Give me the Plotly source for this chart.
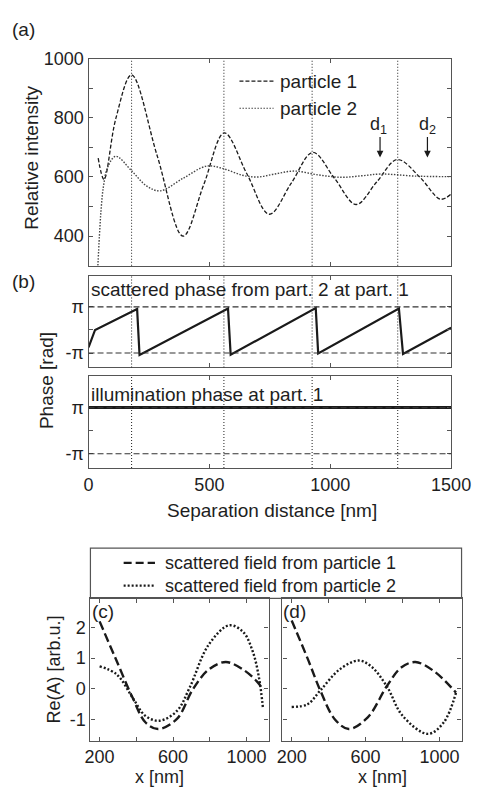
import math
import plotly.graph_objects as go

# ---------------- data ----------------
# (a) relative intensity vs separation distance
sep_p1_nm = [40, 64, 113, 178, 284, 391, 477, 562, 655, 748, 838, 928, 1018, 1107, 1192, 1278, 1370, 1456, 1500]
int_p1 = [664, 592, 798, 945, 672, 400, 575, 749, 611, 474, 578, 683, 595, 507, 583, 659, 600, 525, 542]
sep_p2_nm = [38, 45, 52, 62, 80, 113, 177, 240, 296, 390, 490, 562, 636, 700, 770, 852, 950, 1048, 1130, 1212, 1350, 1500]
int_p2 = [290, 400, 490, 570, 635, 670, 622, 570, 553, 595, 637, 627, 606, 600, 610, 620, 607, 599, 604, 610, 603, 601]
resonance_nm = [178, 560, 925, 1279]
arrow_d1 = (1206, 666)
arrow_d2 = (1402, 666)

# (b) phases
phase_nm = [0, 27, 201, 211, 577, 588, 940, 950, 1284, 1301, 1500]
phase_rad = [-2.38, 0.0, 2.84, -3.41, 2.93, -3.37, 2.97, -3.19, 2.93, -3.28, 0.30]
illum_nm = [0, 1500]
illum_rad = [math.pi, math.pi]

# (c) field profiles
c_p1_x = [200, 286, 380, 449, 518, 621, 707, 793, 887, 982, 1056, 1090]
c_p1_y = [2.20, 1.00, -0.30, -1.10, -1.32, -0.99, -0.03, 0.62, 0.87, 0.62, 0.24, -0.03]
c_p2_x = [200, 294, 380, 449, 526, 621, 690, 793, 905, 982, 1034, 1068, 1090]
c_p2_y = [0.73, 0.46, -0.30, -0.89, -1.05, -0.73, 0.03, 1.43, 2.07, 1.85, 1.21, 0.35, -0.67]
# (d) field profiles
d_p1_x = [200, 286, 355, 432, 509, 612, 715, 793, 870, 973, 1090]
d_p1_y = [2.23, 0.99, -0.06, -0.99, -1.32, -0.94, 0.08, 0.69, 0.87, 0.56, -0.13]
d_p2_x = [200, 286, 355, 458, 561, 630, 715, 801, 938, 1024, 1090]
d_p2_y = [-0.60, -0.51, -0.06, 0.62, 0.92, 0.73, 0.08, -0.89, -1.48, -1.10, -0.13]

# ---------------- layout helpers ----------------
W, H = 492, 789
def px(x):
    return x / W
def py(y):
    return 1 - y / H

FONT = "Liberation Sans, Arial, sans-serif"
TXT = "#1e1e1e"
AX = "#555555"
INK = "#1a1a1a"

fig = go.Figure()

# (a)
fig.add_trace(go.Scatter(x=sep_p1_nm, y=int_p1, mode="lines", xaxis="x", yaxis="y",
                         line=dict(color=INK, width=1.3, dash="4px,2px", shape="spline", smoothing=1.0)))
fig.add_trace(go.Scatter(x=sep_p2_nm, y=int_p2, mode="lines", xaxis="x", yaxis="y",
                         line=dict(color="#444444", width=1.4, dash="1.5px,1.5px", shape="spline", smoothing=1.0)))
# (b)
fig.add_trace(go.Scatter(x=phase_nm, y=phase_rad, mode="lines", xaxis="x2", yaxis="y2",
                         line=dict(color=INK, width=2.2)))
fig.add_trace(go.Scatter(x=illum_nm, y=illum_rad, mode="lines", xaxis="x3", yaxis="y3",
                         line=dict(color=INK, width=3)))
# (c)
fig.add_trace(go.Scatter(x=c_p1_x, y=c_p1_y, mode="lines", xaxis="x4", yaxis="y4",
                         line=dict(color=INK, width=2.4, dash="9px,4px", shape="spline", smoothing=1.0)))
fig.add_trace(go.Scatter(x=c_p2_x, y=c_p2_y, mode="lines", xaxis="x4", yaxis="y4",
                         line=dict(color=INK, width=2.4, dash="2px,2px", shape="spline", smoothing=1.0)))
# (d)
fig.add_trace(go.Scatter(x=d_p1_x, y=d_p1_y, mode="lines", xaxis="x5", yaxis="y5",
                         line=dict(color=INK, width=2.4, dash="9px,4px", shape="spline", smoothing=1.0)))
fig.add_trace(go.Scatter(x=d_p2_x, y=d_p2_y, mode="lines", xaxis="x5", yaxis="y5",
                         line=dict(color=INK, width=2.4, dash="2px,2px", shape="spline", smoothing=1.0)))

common = dict(showline=True, linecolor=AX, linewidth=1.2, mirror="ticks", ticks="inside",
              ticklen=4, tickcolor=AX, tickwidth=1, showgrid=False, zeroline=False,
              tickfont=dict(family=FONT, size=18, color=TXT))

xa_dom = [px(88), px(470)]
fig.update_layout(
    width=W, height=H, margin=dict(l=0, r=0, t=0, b=0),
    paper_bgcolor="white", plot_bgcolor="white", showlegend=False,
    xaxis=dict(domain=xa_dom, range=[0, 1500], anchor="y", tickvals=[0, 500, 1000, 1500],
               showticklabels=False, **common),
    yaxis=dict(domain=[py(259), py(49.3)], range=[300, 1000], anchor="x",
               tickvals=[400, 500, 600, 700, 800, 900, 1000],
               ticktext=["400", "", "600", "", "800", "", "1000"], **common),
    xaxis2=dict(domain=xa_dom, range=[0, 1500], anchor="y2", tickvals=[0, 500, 1000, 1500],
                showticklabels=False, **common),
    yaxis2=dict(domain=[py(362), py(269)], range=[-5.1, 7.4], anchor="x2",
                tickvals=[-math.pi, 0, math.pi], ticktext=["-π", "", "π"], **common),
    xaxis3=dict(domain=xa_dom, range=[0, 1500], anchor="y3", tickvals=[0, 500, 1000, 1500],
                ticktext=["0", "500", "1000", "1500"], **common),
    yaxis3=dict(domain=[py(464), py(371)], range=[-5.1, 7.4], anchor="x3",
                tickvals=[-math.pi, 0, math.pi], ticktext=["-π", "", "π"], **common),
    xaxis4=dict(domain=[px(90), px(277.7)], range=[150, 1120], anchor="y4",
                tickvals=[200, 400, 600, 800, 1000], ticktext=["200", "", "600", "", "1000"], **common),
    yaxis4=dict(domain=[py(740), py(596)], range=[-1.7, 2.95], anchor="x4",
                tickvals=[-1, 0, 1, 2], ticktext=["-1", "0", "1", "2"], **common),
    xaxis5=dict(domain=[px(292.3), px(481)], range=[150, 1120], anchor="y5",
                tickvals=[200, 400, 600, 800, 1000], ticktext=["200", "", "600", "", "1000"], **common),
    yaxis5=dict(domain=[py(740), py(596)], range=[-1.7, 2.95], anchor="x5",
                tickvals=[-1, 0, 1, 2], showticklabels=False, **common),
)

shapes = []
# resonance markers (dotted verticals) in (a), (b) top, (b) bottom
for xr, yr in [("x", "y domain"), ("x2", "y2 domain"), ("x3", "y3 domain")]:
    for xv in resonance_nm:
        shapes.append(dict(type="line", xref=xr, yref=yr, x0=xv, x1=xv, y0=0, y1=1,
                           line=dict(color="#333333", width=1.1, dash="1px,2px")))
# +-pi dashed guides
for xr, yr in [("x2 domain", "y2"), ("x3 domain", "y3")]:
    for yv in (-math.pi, math.pi):
        shapes.append(dict(type="line", xref=xr, yref=yr, x0=0, x1=1, y0=yv, y1=yv,
                           line=dict(color="#333333", width=1.1, dash="6px,3px")))
# legend of (a)
shapes.append(dict(type="line", xref="paper", yref="paper", x0=px(247), x1=px(283), y0=py(72), y1=py(72),
                   line=dict(color=INK, width=1.2, dash="4px,2px")))
shapes.append(dict(type="line", xref="paper", yref="paper", x0=px(247), x1=px(283), y0=py(99.5), y1=py(99.5),
                   line=dict(color="#444444", width=1.2, dash="1.5px,1.5px")))
# legend box of (c)/(d)
shapes.append(dict(type="rect", xref="paper", yref="paper", x0=px(90), x1=px(481), y0=py(596), y1=py(545),
                   line=dict(color=AX, width=1.2), fillcolor="rgba(0,0,0,0)"))
shapes.append(dict(type="line", xref="paper", yref="paper", x0=px(125), x1=px(158), y0=py(560), y1=py(560),
                   line=dict(color=INK, width=2.4, dash="8px,4px")))
shapes.append(dict(type="line", xref="paper", yref="paper", x0=px(125), x1=px(158), y0=py(583), y1=py(583),
                   line=dict(color=INK, width=2.4, dash="2px,2px")))
fig.update_layout(shapes=shapes)

ann = []
def txt(x, y, s, size=19, xanchor="center", angle=0):
    ann.append(dict(xref="paper", yref="paper", x=px(x), y=py(y), text=s, showarrow=False,
                    xanchor=xanchor, yanchor="middle", textangle=angle, borderpad=0,
                    font=dict(family=FONT, size=size, color=TXT)))

txt(20, 20, "(a)")
txt(20, 275, "(b)")
txt(28, 150, "Relative intensity", angle=-90)
txt(43, 375, "Phase [rad]", angle=-90)
txt(281, 507, "Separation distance [nm]")
txt(90, 283.5, "scattered phase from part. 2 at part. 1", xanchor="left")
txt(90, 389.5, "illumination phase at part. 1", xanchor="left")
txt(289, 72, "particle 1", xanchor="left")
txt(289, 99.5, "particle 2", xanchor="left")
txt(394, 117, "d<sub>1</sub>", size=18)
txt(445, 117, "d<sub>2</sub>", size=18)
txt(103.5, 609, "(c)", size=19)
txt(305.5, 609, "(d)", size=19)
txt(168, 560, "scattered field from particle 1", size=18, xanchor="left")
txt(168, 583, "scattered field from particle 2", size=18, xanchor="left")
txt(51.5, 668, "Re(A) [arb.u.]", size=18, angle=-90)
txt(163, 777, "x [nm]", size=18)
txt(398, 777, "x [nm]", size=18)

for (ax_, ay_) in (arrow_d1, arrow_d2):
    ann.append(dict(xref="x", yref="y", x=ax_, y=ay_, text="", showarrow=True,
                    ax=0, ay=-22, arrowhead=2, arrowsize=1.1, arrowwidth=1.2, arrowcolor=INK,
                    standoff=0, startstandoff=0))
fig.update_layout(annotations=ann)

fig.write_html("out.html", config={"displayModeBar": False},
               post_script="document.body.style.margin='0';document.body.style.padding='0';"
                           "document.documentElement.style.overflow='hidden';")
